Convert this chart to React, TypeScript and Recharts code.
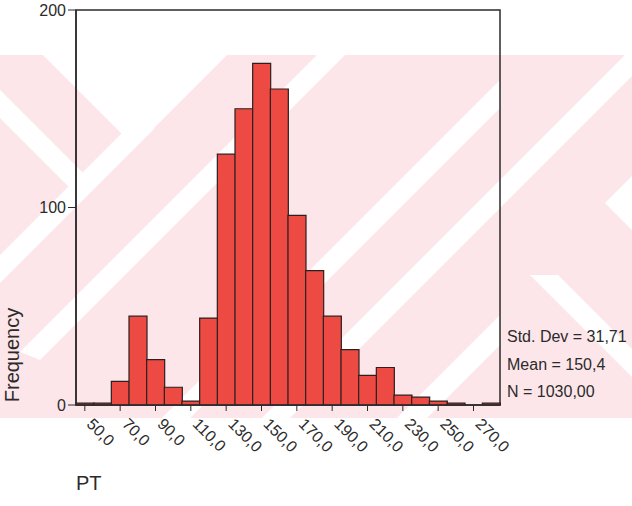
import React from "react";
import { BarChart, Bar, XAxis, YAxis, ReferenceArea } from "recharts";

// PT histogram, bin width 10 (midpoints)
const bins = [
  "50,0", "60,0", "70,0", "80,0", "90,0", "100,0", "110,0", "120,0",
  "130,0", "140,0", "150,0", "160,0", "170,0", "180,0", "190,0", "200,0",
  "210,0", "220,0", "230,0", "240,0", "250,0", "260,0", "270,0", "280,0",
];
const counts = [
  1, 1, 12, 45, 23, 9, 2, 44,
  127, 150, 173, 160, 96, 68, 45, 28,
  15, 19, 5, 4, 2, 1, 0, 1,
];
const yTicks = [0, 100, 200];
const stats = ["Std. Dev = 31,71", "Mean = 150,4", "N = 1030,00"];

const data = bins.map((bin, i) => ({ bin, count: counts[i] }));

const FONT = "'Liberation Sans', Arial, sans-serif";
const INK = "#2b2b2b";

function XTick({ x, y, payload }: any) {
  return (
    <g transform={`translate(${x + 5},${y + 8})`}>
      <text
        transform="rotate(45)"
        x={0}
        y={0}
        dy="0.35em"
        textAnchor="start"
        fontSize={16}
        fill={INK}
        fontFamily={FONT}
      >
        {payload.value}
      </text>
    </g>
  );
}

// light pink scan watermark behind the chart
function Watermark() {
  return (
    <svg width={632} height={506} style={{ position: "absolute", left: 0, top: 0 }}>
      <defs>
        <clipPath id="band">
          <rect x={0} y={55} width={632} height={363} />
        </clipPath>
        <clipPath id="plot">
          <rect x={0} y={55} width={500} height={363} />
        </clipPath>
      </defs>
      <rect x={0} y={55} width={632} height={363} fill="#fce6ea" />
      <g clipPath="url(#band)" fill="#ffffff">
        <polygon points="43,55 227,55 135,147" />
        <polygon points="0,90 90,180 76,194 0,118" />
        <polygon points="0,255 140,115 154,129 0,283" />
        <polygon points="317,55 345,55 40,360 20,352" />
        <polygon points="625,55 653,55 290,418 262,418" />
        <polygon points="530,275 632,377 632,349 558,275" />
        <polygon points="605,203 632,176 632,230" />
      </g>
      <g clipPath="url(#plot)" fill="#ffffff">
        <polygon points="525,55 553,55 135,473 162,418" />
        <polygon points="500,315 500,345 427,418 397,418" />
      </g>
    </svg>
  );
}

export default function App() {
  return (
    <div style={{ position: "absolute", left: 0, top: 0, width: 632, height: 506, background: "#fff" }}>
      <Watermark />
      <div style={{ position: "absolute", left: 0, top: 0 }}>
        <BarChart
          width={632}
          height={506}
          data={data}
          margin={{ top: 10, right: 132, bottom: 0, left: 0 }}
          barCategoryGap={0}
        >
          <XAxis
            dataKey="bin"
            interval={1}
            tickSize={6}
            tickMargin={2}
            height={101}
            tick={<XTick />}
            axisLine={{ stroke: INK, strokeWidth: 1.5 }}
            tickLine={{ stroke: INK }}
          />
          <YAxis
            domain={[0, 200]}
            ticks={yTicks}
            width={76}
            tickSize={8}
            tickMargin={2}
            tick={{ fontSize: 16, fill: INK, fontFamily: FONT }}
            axisLine={{ stroke: INK, strokeWidth: 1.5 }}
            tickLine={{ stroke: INK }}
          />
          <Bar
            dataKey="count"
            fill="#ec4a43"
            stroke="#2a2020"
            strokeWidth={1.2}
            isAnimationActive={false}
          />
          <ReferenceArea
            x1={bins[0]}
            x2={bins[bins.length - 1]}
            y1={0}
            y2={200}
            fill="none"
            fillOpacity={0}
            stroke={INK}
            strokeWidth={1.5}
            ifOverflow="visible"
          />
        </BarChart>
      </div>
      <svg width={632} height={506} style={{ position: "absolute", left: 0, top: 0, pointerEvents: "none" }}>
        <text
          transform="translate(19,355) rotate(-90)"
          textAnchor="middle"
          fontSize={20}
          fill={INK}
          fontFamily={FONT}
        >
          Frequency
        </text>
        {stats.map((s, i) => (
          <text key={s} x={507} y={342 + i * 27.5} fontSize={16} fill={INK} fontFamily={FONT}>
            {s}
          </text>
        ))}
        <text x={76} y={490} fontSize={20} fill={INK} fontFamily={FONT}>
          PT
        </text>
      </svg>
    </div>
  );
}
